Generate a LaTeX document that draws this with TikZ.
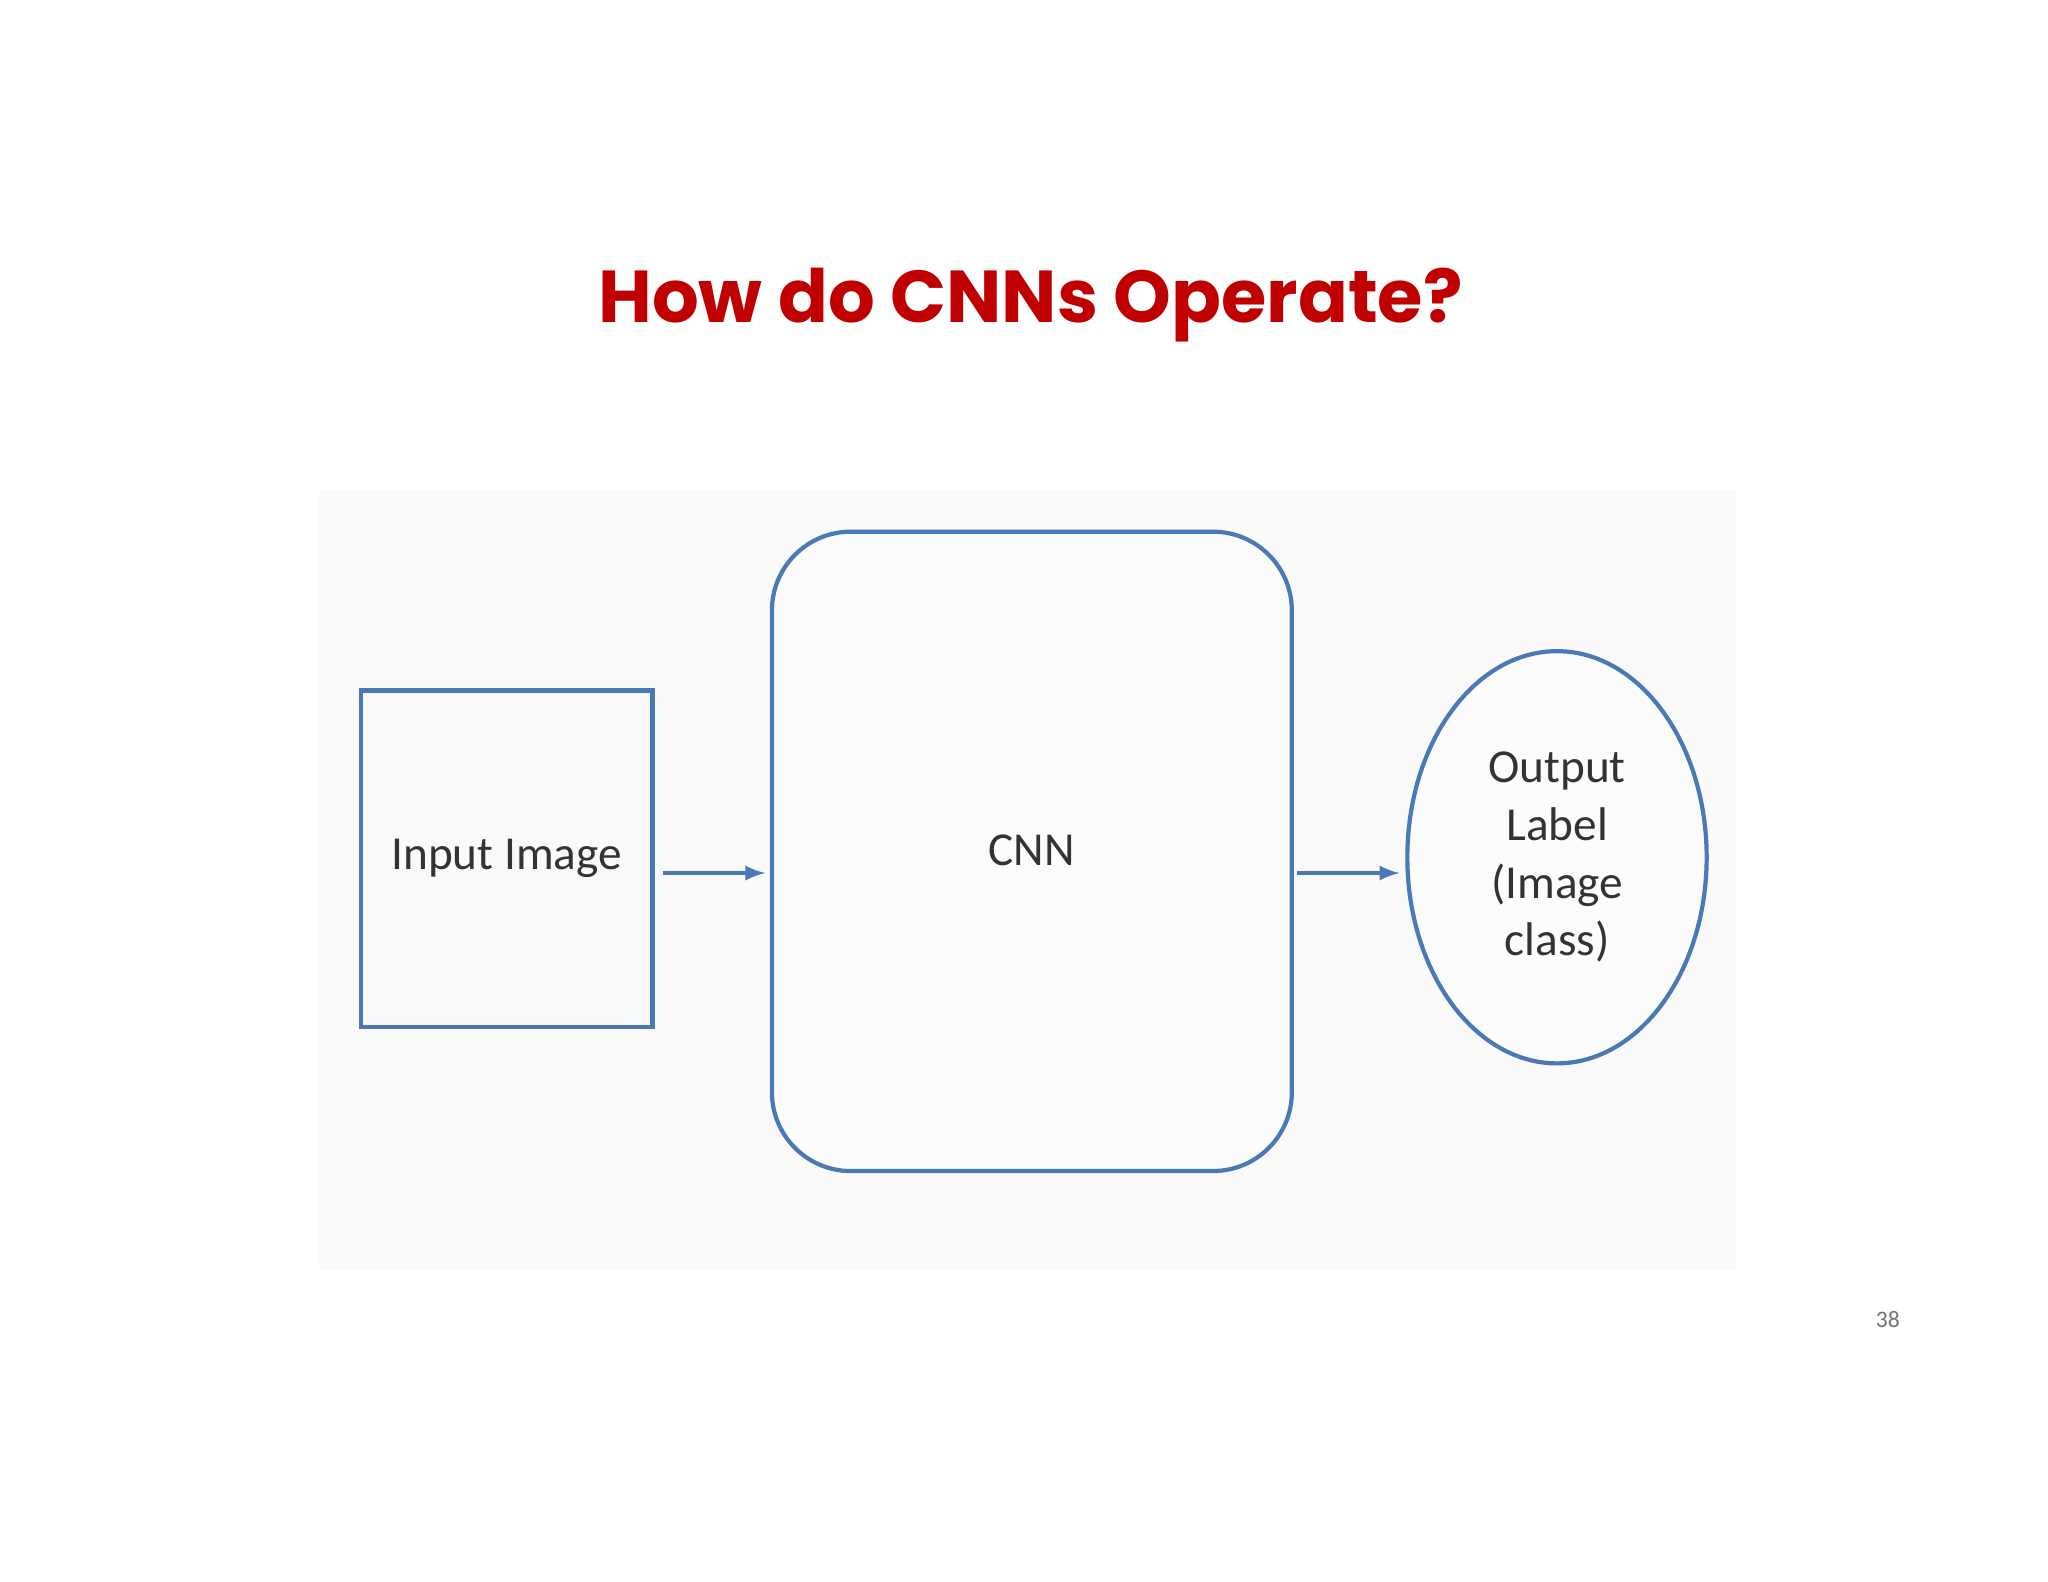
\documentclass[tikz,border=0pt]{standalone}
\usepackage{fontspec}
\usetikzlibrary{shapes.geometric}
\setmainfont{Carlito}
\newfontfamily\titlefont{Poppins}
\begin{document}
\begin{tikzpicture}[x=0.5pt,y=-0.5pt,
  shape border/.style={draw=blueline,line width=1.6pt,outer sep=0pt},
  lbl/.style={font=\fontsize{18}{22}\selectfont,text=black!80}]
\definecolor{blueline}{HTML}{4A79B8}
\definecolor{titlered}{HTML}{C00000}
\useasboundingbox (0,0) rectangle (1560,1205);
\fill[white] (0,0) rectangle (1560,1205);
\fill[black!2] (243,373) rectangle (1322,967);
\node[text=titlered,font=\titlefont\bfseries\fontsize{28}{34}\selectfont] (title) at (785,232) {How do CNNs Operate?};
\node[shape border,rectangle,minimum width=111pt,minimum height=128pt,lbl,fill=black!2] (in) at (386,654) {Input Image};
\node[shape border,rectangle,rounded corners=30pt,minimum width=198pt,minimum height=243.5pt,lbl,fill=black!1] (cnn) at (786,648.5) {};
\node[lbl] (cnnl) at (786,648) {CNN};
\node[shape border,ellipse,minimum width=114pt,minimum height=157pt,lbl,align=center,inner sep=0pt,fill=black!1] (out) at (1186,653) {Output\\Label\\(Image\\class)};
\draw[blueline,line width=1.6pt,-latex] (505,665) -- (583,665);
\draw[blueline,line width=1.6pt,-latex] (988,665) -- (1066,665);
\node[text=black!55,font=\fontsize{9}{11}\selectfont] (pg) at (1438,1005) {38};
\end{tikzpicture}
\end{document}
